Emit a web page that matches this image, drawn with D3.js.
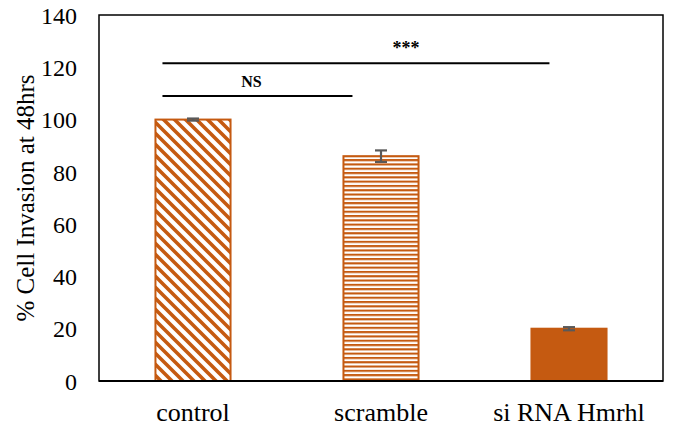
<!DOCTYPE html>
<html>
<head>
<meta charset="utf-8">
<script src="https://cdn.jsdelivr.net/npm/d3@7"></script>
<style>
  html, body { margin: 0; padding: 0; background: #fff; }
  svg { display: block; }
  svg text { font-family: "Liberation Serif", "Times New Roman", serif; fill: #000; }
</style>
</head>
<body>
<svg id="chart" width="673" height="429"></svg>
<script>
// Data
const categories = ["control", "scramble", "si RNA Hmrhl"];
const values = [100, 86, 20];
const errors = [0.4, 2.2, 0.6];
const fills = ["diag", "horiz", "solid"];
const yTicks = [0, 20, 40, 60, 80, 100, 120, 140];
const brackets = [
  { from: "control", to: "scramble", y: 109, label: "NS" },
  { from: "control", to: "si RNA Hmrhl", y: 121.5, label: "***" }
];

const orange = "#C55A11";
const svg = d3.select("#chart");
const margin = { left: 99, right: 10, top: 15, bottom: 48 };
const W = 673, H = 429;

const x = d3.scaleBand().domain(categories).range([margin.left, W - margin.right])
  .paddingInner(0.59).paddingOuter(0.295);
const y = d3.scaleLinear().domain([0, 140]).range([H - margin.bottom, margin.top]);
const cx = c => x(c) + x.bandwidth() / 2;

// Fill patterns
const defs = svg.append("defs");
const pd = defs.append("pattern").attr("id", "diag").attr("patternUnits", "userSpaceOnUse")
  .attr("width", 11).attr("height", 11);
pd.append("rect").attr("width", 11).attr("height", 11).attr("fill", "#fff");
pd.append("path").attr("d", "M-2,-2 L13,13 M-2,9 L2,13 M9,-2 L13,2")
  .attr("stroke", orange).attr("stroke-width", 3.6);
const ph = defs.append("pattern").attr("id", "horiz").attr("patternUnits", "userSpaceOnUse")
  .attr("width", 8).attr("height", 4.3);
ph.append("rect").attr("width", 8).attr("height", 4.3).attr("fill", "#fff");
ph.append("rect").attr("y", 0).attr("width", 8).attr("height", 2.1).attr("fill", orange);

// Plot frame
svg.append("rect")
  .attr("x", margin.left).attr("y", margin.top)
  .attr("width", W - margin.right - margin.left).attr("height", y(0) - margin.top)
  .attr("fill", "none").attr("stroke", "#000").attr("stroke-width", 1.5);

// Bars
svg.selectAll("rect.bar").data(categories).join("rect")
  .attr("class", "bar")
  .attr("x", d => x(d) + 1)
  .attr("width", x.bandwidth() - 2)
  .attr("y", (d, i) => y(values[i]))
  .attr("height", (d, i) => y(0) - y(values[i]))
  .attr("fill", (d, i) => fills[i] === "solid" ? orange : `url(#${fills[i]})`)
  .attr("stroke", orange).attr("stroke-width", 2);

// Bottom axis line
svg.append("line")
  .attr("x1", margin.left).attr("x2", W - margin.right)
  .attr("y1", y(0)).attr("y2", y(0))
  .attr("stroke", "#000").attr("stroke-width", 2.2);

// Error bars
const eb = svg.selectAll("g.err").data(categories).join("g").attr("class", "err")
  .attr("stroke", "#595959").attr("stroke-width", 2.2);
eb.append("line")
  .attr("x1", d => cx(d)).attr("x2", d => cx(d))
  .attr("y1", (d, i) => y(values[i] + errors[i])).attr("y2", (d, i) => y(values[i] - errors[i]));
[1, -1].forEach(s => {
  eb.append("line")
    .attr("x1", d => cx(d) - 6).attr("x2", d => cx(d) + 6)
    .attr("y1", (d, i) => y(values[i] + s * errors[i])).attr("y2", (d, i) => y(values[i] + s * errors[i]));
});

// Y axis labels
const yAxis = d3.axisLeft(y).tickValues(yTicks).tickSize(0).tickPadding(22);
const gy = svg.append("g").attr("transform", `translate(${margin.left},0)`).call(yAxis);
gy.attr("font-family", null).attr("font-size", null);
gy.select(".domain").remove();
gy.selectAll("text").style("font-size", "24px").attr("dy", "0.34em");

// X axis labels
const xAxis = d3.axisBottom(x).tickSize(0).tickPadding(22);
const gx = svg.append("g").attr("transform", `translate(0,${y(0)})`).call(xAxis);
gx.attr("font-family", null).attr("font-size", null);
gx.select(".domain").remove();
gx.selectAll("text").style("font-size", "26px");

// Y title
svg.append("text")
  .attr("transform", `translate(34,${(margin.top + y(0)) / 2}) rotate(-90)`)
  .attr("text-anchor", "middle")
  .style("font-size", "25px")
  .text("% Cell Invasion at 48hrs");

// Significance brackets
const bracketStart = c => x(c) + 8;
const bracketEnd = { "scramble": c => x(c) + 10, "si RNA Hmrhl": c => x(c) + 19 };
const labelShift = { "NS": -6, "***": 50 };
brackets.forEach(b => {
  const x1 = bracketStart(b.from), x2 = bracketEnd[b.to](b.to);
  svg.append("line").attr("x1", x1).attr("x2", x2)
    .attr("y1", y(b.y)).attr("y2", y(b.y))
    .attr("stroke", "#000").attr("stroke-width", 2);
  svg.append("text")
    .attr("x", (x1 + x2) / 2 + labelShift[b.label]).attr("y", y(b.y) - 9)
    .attr("text-anchor", "middle")
    .attr("font-weight", "bold")
    .style("font-size", b.label === "NS" ? "16px" : "18px")
    .text(b.label);
});
</script>
</body>
</html>
